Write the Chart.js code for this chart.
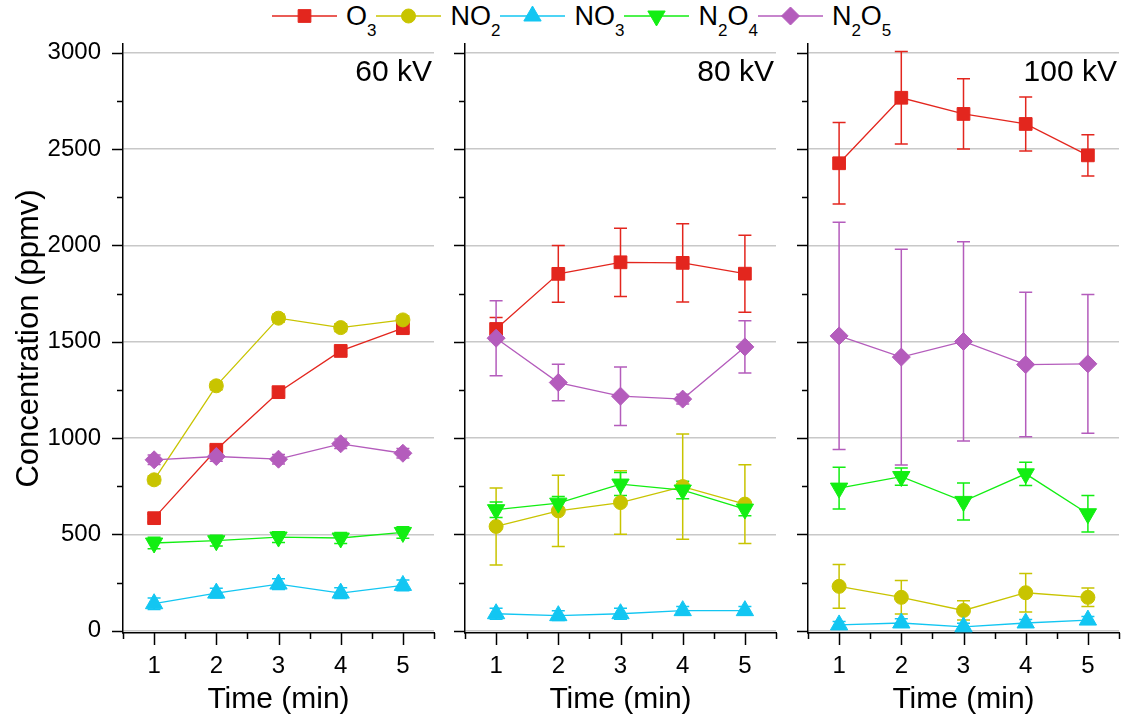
<!DOCTYPE html>
<html>
<head>
<meta charset="utf-8">
<title>Concentration vs time</title>
<script src="https://cdn.jsdelivr.net/npm/chart.js@4.4.1/dist/chart.umd.min.js"></script>
<style>
  body { margin: 0; background: #fff; font-family: 'Liberation Sans', Arial, sans-serif; }
  #wrap { position: relative; width: 1130px; height: 723px; overflow: hidden; }
  .panel { position: absolute; top: 0; }
  #legend { position: absolute; left: 272px; top: 0; display: flex; }
  .item { display: flex; align-items: flex-start; }
  .item canvas { display: block; }
  .txt { display: block; height: 32px; line-height: 32px; font-size: 27px; color: #000; margin-left: 9px; white-space: nowrap; }
  .txt sub { font-size: 17px; vertical-align: -11px; line-height: 0; }
</style>
</head>
<body>
<div id="wrap">
  <div id="legend"></div>
  <canvas class="panel" id="p0"></canvas>
  <canvas class="panel" id="p1"></canvas>
  <canvas class="panel" id="p2"></canvas>
</div>
<script>
const times = [1, 2, 3, 4, 5];
const voltages = ['60 kV', '80 kV', '100 kV'];
const yTicks = [0, 500, 1000, 1500, 2000, 2500, 3000];
const names = ['O3', 'NO2', 'NO3', 'N2O4', 'N2O5'];

// rows: 60 kV, 80 kV, 100 kV
const o3 = [[584, 939, 1238, 1452, 1570], [1566, 1852, 1912, 1909, 1853], [2426, 2766, 2682, 2630, 2467]];
const o3Err = [[20, 20, 20, 20, 20], [60, 147, 177, 203, 200], [211, 240, 182, 140, 107]];
const no2 = [[783, 1271, 1622, 1573, 1613], [541, 622, 665, 748, 657], [230, 173, 105, 197, 173]];
const no2Err = [[20, 20, 20, 20, 20], [200, 185, 165, 273, 204], [113, 87, 50, 100, 48]];
const no3 = [[140, 195, 242, 195, 235], [88, 78, 88, 104, 104], [30, 40, 20, 40, 55]];
const no3Err = [[30, 25, 28, 28, 28], [28, 25, 28, 22, 22], [18, 22, 18, 18, 18]];
const n2o4 = [[455, 467, 486, 481, 510], [628, 662, 761, 730, 631], [740, 800, 671, 814, 607]];
const n2o4Err = [[30, 28, 28, 28, 30], [40, 35, 60, 45, 35], [108, 45, 96, 60, 95]];
const n2o5 = [[887, 904, 890, 970, 921], [1518, 1288, 1217, 1202, 1473], [1530, 1420, 1501, 1381, 1385]];
const n2o5Err = [[25, 25, 25, 25, 25], [195, 95, 152, 25, 136], [590, 560, 517, 375, 360]];

const values = [o3, no2, no3, n2o4, n2o5];
const errors = [o3Err, no2Err, no3Err, n2o4Err, n2o5Err];
const looks = [
  { color: '#e3261e', style: 'rect', radius: 9, rotation: 0 },
  { color: '#c8c400', style: 'circle', radius: 7, rotation: 0 },
  { color: '#12c6f2', style: 'triangle', radius: 10, rotation: 0 },
  { color: '#12ee12', style: 'triangle', radius: 10, rotation: 180 },
  { color: '#b45cbc', style: 'rectRot', radius: 9, rotation: 0 }
];

const FONT = "'Liberation Sans', Arial, sans-serif";
const GRID = '#c8c8c8';

// legend across the top, line + marker + formula
const legend = document.getElementById('legend');
names.forEach((n, i) => {
  const lk = looks[i];
  const item = document.createElement('div');
  item.className = 'item';
  const c = document.createElement('canvas');
  c.width = 65; c.height = 32;
  const g = c.getContext('2d');
  g.strokeStyle = lk.color; g.lineWidth = 1.5;
  g.beginPath(); g.moveTo(0, 16); g.lineTo(65, 16); g.stroke();
  g.fillStyle = lk.color; g.lineWidth = 1;
  Chart.helpers.drawPoint(g, { pointStyle: lk.style, rotation: lk.rotation, radius: lk.radius, borderWidth: 1 }, 32.5, 16);
  const t = document.createElement('span');
  t.className = 'txt';
  t.innerHTML = n.replace(/(\d)/g, '<sub>$1</sub>');
  item.appendChild(c); item.appendChild(t);
  legend.appendChild(item);
});

// error bars under the lines, outward tick marks, kV label
const decorations = {
  id: 'decorations',
  beforeDatasetsDraw(chart) {
    const { ctx, scales: { x, y } } = chart;
    ctx.save();
    chart.data.datasets.forEach(ds => {
      ctx.strokeStyle = ds.borderColor;
      ctx.lineWidth = 1.5;
      ds.data.forEach((p, i) => {
        const e = ds.errors[i];
        const px = x.getPixelForValue(p.x);
        const top = y.getPixelForValue(p.y + e);
        const bot = y.getPixelForValue(p.y - e);
        ctx.beginPath();
        ctx.moveTo(px, top); ctx.lineTo(px, bot);
        ctx.moveTo(px - 6.5, top); ctx.lineTo(px + 6.5, top);
        ctx.moveTo(px - 6.5, bot); ctx.lineTo(px + 6.5, bot);
        ctx.stroke();
      });
    });
    ctx.restore();
  },
  afterDraw(chart) {
    const { ctx, chartArea, scales: { x, y } } = chart;
    ctx.save();
    ctx.strokeStyle = '#000';
    ctx.lineWidth = 1.5;
    ctx.beginPath();
    for (let v = 0; v <= 3000; v += 250) {
      const py = Math.round(y.getPixelForValue(v)) + 0.5;
      const len = v % 500 === 0 ? 11 : 6;
      ctx.moveTo(chartArea.left, py); ctx.lineTo(chartArea.left - len, py);
    }
    for (let v = 0.5; v <= 5.5; v += 0.5) {
      const px = Math.round(x.getPixelForValue(v)) + 0.5;
      const len = Number.isInteger(v) ? 12 : 6;
      ctx.moveTo(px, chartArea.bottom); ctx.lineTo(px, chartArea.bottom + len);
    }
    ctx.stroke();
    ctx.fillStyle = '#000';
    ctx.font = '30px ' + FONT;
    ctx.textAlign = 'right';
    ctx.textBaseline = 'alphabetic';
    ctx.fillText(chart.options.plugins.decorations.label, chartArea.right - 2, chartArea.top + 37);
    ctx.restore();
  }
};

const panels = [
  { left: 0, width: 445, yWidth: 123, padRight: 7 },
  { left: 445, width: 342, yWidth: 20, padRight: 5 },
  { left: 787, width: 343, yWidth: 21, padRight: 6 }
];

panels.forEach((pg, k) => {
  const canvas = document.getElementById('p' + k);
  canvas.width = pg.width;
  canvas.height = 723;
  canvas.style.left = pg.left + 'px';
  const first = k === 0;

  const datasets = names.map((n, i) => ({
    label: n,
    data: times.map((t, j) => ({ x: t, y: values[i][k][j] })),
    errors: errors[i][k],
    borderColor: looks[i].color,
    backgroundColor: looks[i].color,
    borderWidth: 1.3,
    pointStyle: looks[i].style,
    pointRotation: looks[i].rotation,
    pointRadius: looks[i].radius,
    pointBorderWidth: 1,
    order: names.length - i
  }));

  new Chart(canvas, {
    type: 'line',
    data: { datasets },
    plugins: [decorations],
    options: {
      responsive: false,
      animation: false,
      events: [],
      layout: { padding: { top: 44, right: pg.padRight, bottom: 0, left: 0 } },
      plugins: {
        legend: { display: false },
        tooltip: { enabled: false },
        decorations: { label: voltages[k] }
      },
      scales: {
        x: {
          type: 'linear',
          min: 0.5,
          max: 5.5,
          afterBuildTicks: s => { s.ticks = times.map(v => ({ value: v })); },
          afterFit: s => { s.height = 90; },
          grid: { display: false, drawTicks: false },
          border: { display: true, color: '#000', width: 1.5 },
          ticks: { color: '#000', font: { family: FONT, size: 24 }, padding: 19, autoSkip: false, maxRotation: 0 },
          title: { display: true, text: 'Time (min)', color: '#000', font: { family: FONT, size: 30 }, padding: { top: 0, bottom: 5 } }
        },
        y: {
          type: 'linear',
          min: -12,
          max: 3045,
          afterBuildTicks: s => {
            const t = [];
            for (let v = 0; v <= 3000; v += 250) t.push({ value: v });
            s.ticks = t;
          },
          afterFit: s => { s.width = pg.yWidth; },
          grid: {
            drawTicks: false,
            lineWidth: 1.5,
            color: c => (c.tick && c.tick.value % 500 === 0) ? GRID : 'rgba(0,0,0,0)'
          },
          border: { display: true, color: '#000', width: 1.5 },
          ticks: {
            display: first,
            autoSkip: false,
            color: '#000',
            font: { family: FONT, size: 24 },
            padding: 22,
            callback: v => yTicks.includes(v) ? String(v) : ''
          },
          title: {
            display: first,
            text: 'Concentration (ppmv)',
            color: '#000',
            font: { family: FONT, size: 31 },
            padding: { top: 11, bottom: 0 }
          }
        }
      }
    }
  });
});
</script>
</body>
</html>
